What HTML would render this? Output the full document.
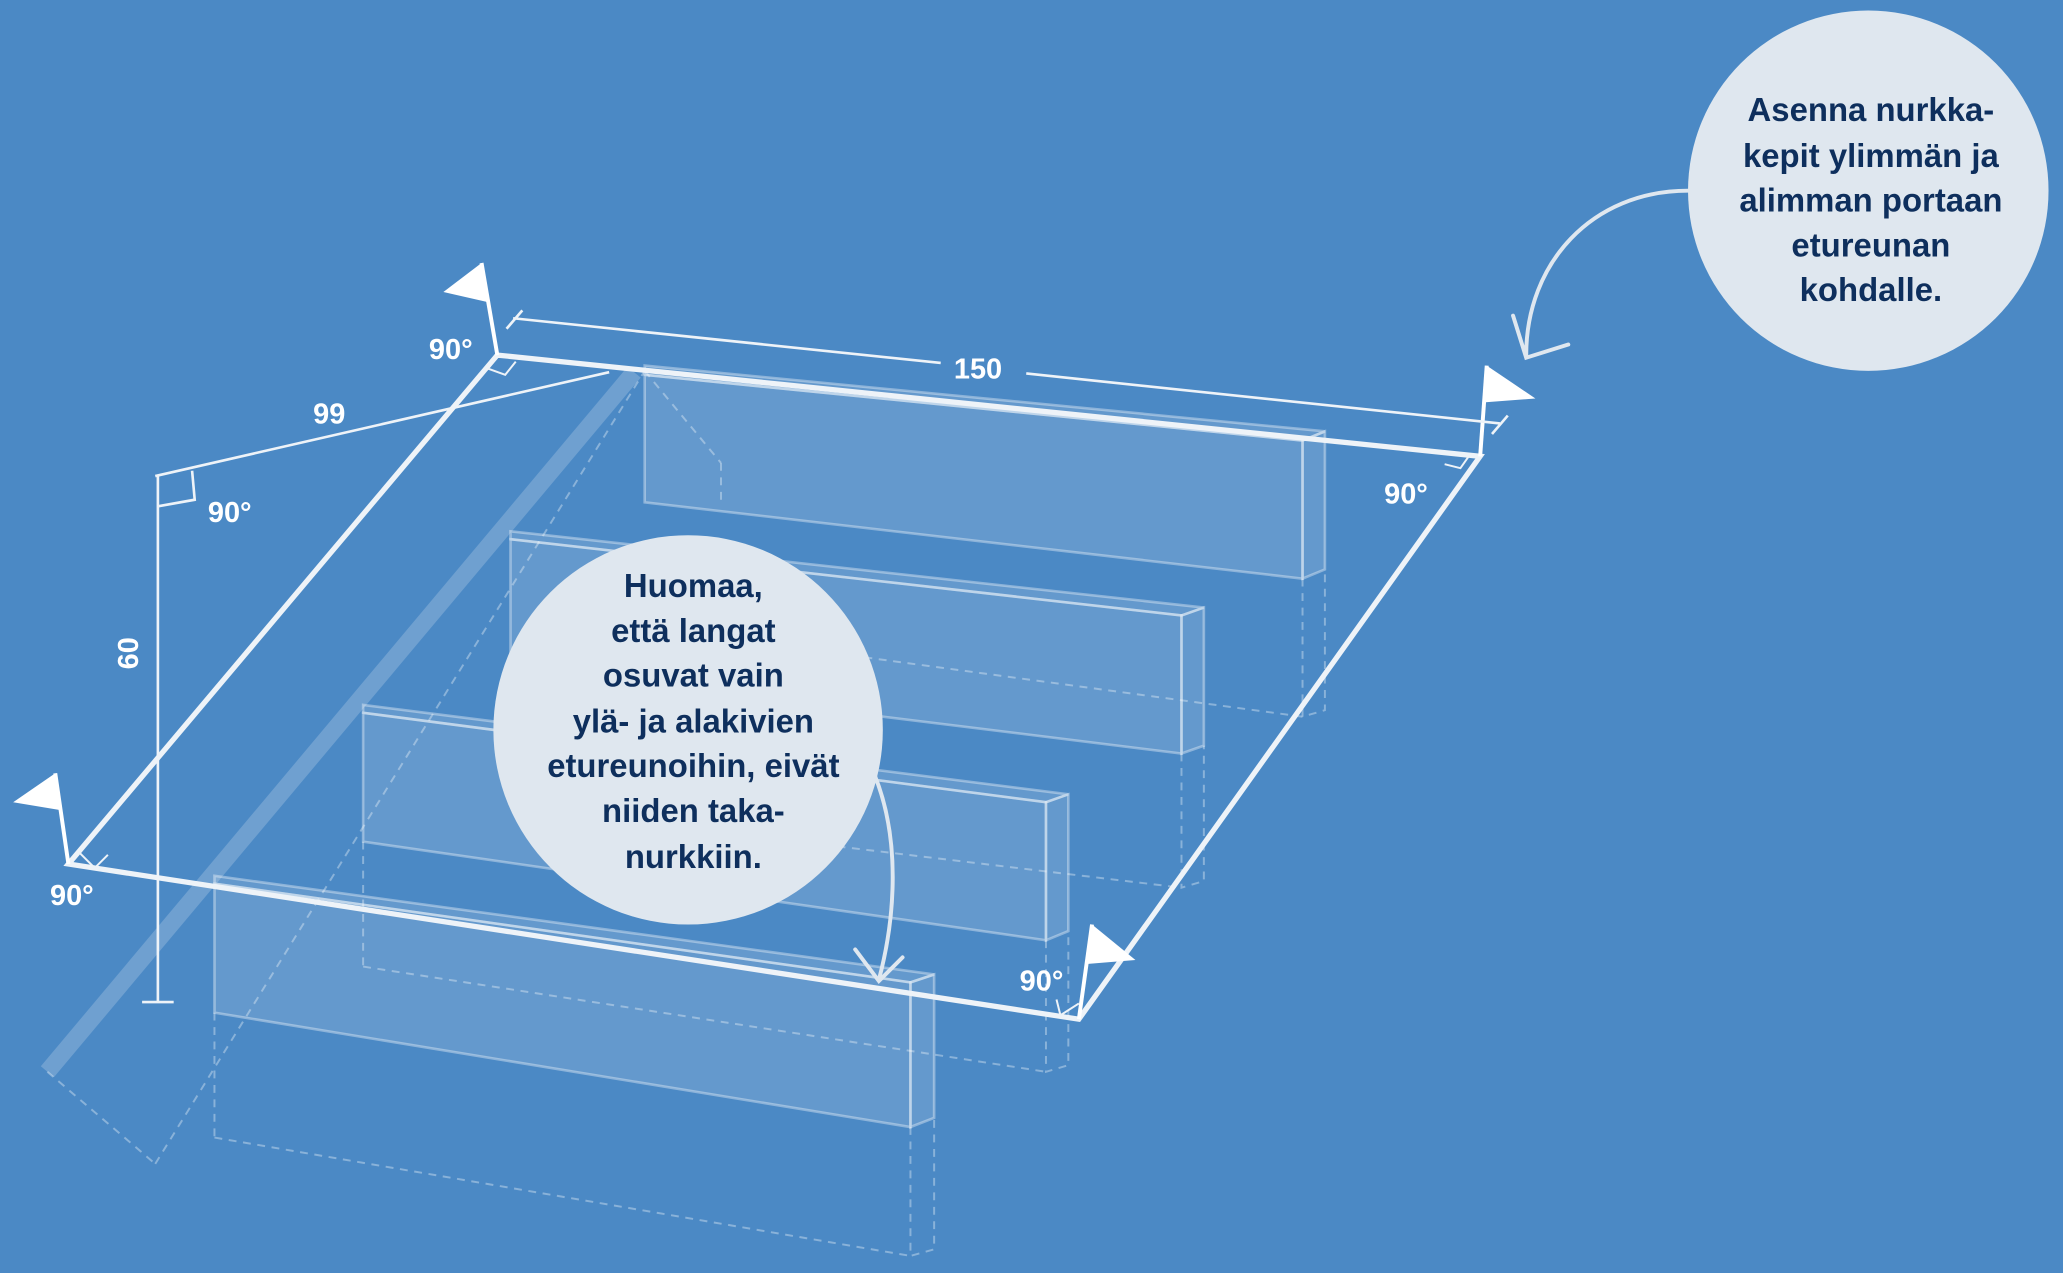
<!DOCTYPE html>
<html><head><meta charset="utf-8"><style>
html,body{margin:0;padding:0;background:#4a88c4;}
svg{display:block}
text{font-family:"Liberation Sans",sans-serif;font-weight:bold;}
</style></head><body>
<svg width="2063" height="1273" viewBox="0 0 1568 968" preserveAspectRatio="none" xmlns="http://www.w3.org/2000/svg">
<rect width="1568" height="968" fill="#4b89c5"/>
<!-- diagonal rail -->
<line x1="482" y1="283" x2="36" y2="815" stroke="rgba(255,255,255,0.2)" stroke-width="13"/>
<g stroke="rgba(255,255,255,0.35)" stroke-width="1.5" stroke-dasharray="6,5" fill="none">
<line x1="36" y1="815" x2="118" y2="885"/><line x1="118" y1="885" x2="490" y2="282"/>
<line x1="490" y1="282" x2="548" y2="352"/>
<line x1="548" y1="352" x2="548" y2="380"/>
<polyline points="990,440 990,545 1007,540 1007,433"/><line x1="548" y1="485" x2="990" y2="545"/>
<polyline points="898,573 898,675 915,670 915,567"/><line x1="440" y1="620" x2="898" y2="675"/>
<polyline points="795,715 795,815 812,810 812,708"/><line x1="276" y1="640" x2="276" y2="735"/><line x1="276" y1="735" x2="795" y2="815"/>
<polyline points="692,857 692,955 710,950 710,850"/><line x1="163" y1="770" x2="163" y2="865"/><line x1="163" y1="865" x2="692" y2="955"/>
</g>
<g fill="rgba(255,255,255,0.14)" stroke="rgba(255,255,255,0.36)" stroke-width="2">
<polygon points="490,278 1007,328 990,335 490,285"/><polygon points="490,285 990,335 990,440 490,382"/><polygon points="990,335 1007,328 1007,433 990,440"/>
<polygon points="388,404 915,462 898,468 388,410"/><polygon points="388,410 898,468 898,573 388,510"/><polygon points="898,468 915,462 915,567 898,573"/>
<polygon points="276,536 812,604 795,610 276,542"/><polygon points="276,542 795,610 795,715 276,640"/><polygon points="795,610 812,604 812,708 795,715"/>
<polygon points="163,666 710,741 692,747 163,672"/><polygon points="163,672 692,747 692,857 163,770"/><polygon points="692,747 710,741 710,850 692,857"/>
</g>
<polygon points="378,270 1125,347 820,775 52,657" fill="none" stroke="#eef3f8" stroke-width="4"/>
<g stroke="#eef3f8" stroke-width="1.5" fill="none">
<polyline points="370,280 384,285 392,275"/><polyline points="1098,353 1110,356 1117,346"/>
<polyline points="60,648 72,660 82,650"/><polyline points="803,760 806,772 820,763"/>
</g>
<g stroke="#fff" stroke-width="3" fill="#fff">
<line x1="378" y1="270" x2="366" y2="200"/><polygon points="366,200 337,222 372,230" stroke="none"/>
<line x1="52" y1="657" x2="42" y2="588"/><polygon points="42,588 10,610 46,616" stroke="none"/>
<line x1="1125" y1="347" x2="1130" y2="278"/><polygon points="1130,278 1167,303 1128,306" stroke="none"/>
<line x1="820" y1="775" x2="830" y2="703"/><polygon points="830,703 863,730 826,733" stroke="none"/>
</g>
<g stroke="#eef3f8" stroke-width="2" fill="none">
<line x1="390" y1="242" x2="715" y2="276"/><line x1="780" y1="284" x2="1140" y2="322"/>
<line x1="385" y1="250" x2="397" y2="236"/><line x1="1134" y1="330" x2="1146" y2="316"/>
<line x1="118" y1="362" x2="463" y2="283"/>
<line x1="120" y1="362" x2="120" y2="762"/><line x1="108" y1="762" x2="132" y2="762"/>
<polyline points="120,385 148,380 146,358"/>
</g>
<g fill="#fff" font-size="22">
<text x="725" y="288">150</text>
<text x="238" y="322">99</text>
<text x="90" y="510" transform="rotate(-90 97 502)">60</text>
<text x="326" y="273">90°</text><text x="158" y="397">90°</text>
<text x="1052" y="383">90°</text><text x="38" y="688">90°</text><text x="775" y="753">90°</text>
</g>
<circle cx="1420" cy="145" r="137" fill="#dfe7ef"/>
<circle cx="523" cy="555" r="148" fill="#dfe7ef"/>
<g fill="#0e2f5d" font-size="25" text-anchor="middle">
<text x="1422" y="92">Asenna nurkka-</text><text x="1422" y="127">kepit ylimmän ja</text>
<text x="1422" y="161">alimman portaan</text><text x="1422" y="195">etureunan</text><text x="1422" y="229">kohdalle.</text>
<text x="527" y="454">Huomaa,</text><text x="527" y="488">että langat</text><text x="527" y="522">osuvat vain</text>
<text x="527" y="557">ylä- ja alakivien</text><text x="527" y="591">etureunoihin, eivät</text>
<text x="527" y="625">niiden taka-</text><text x="527" y="660">nurkkiin.</text>
</g>
<g stroke="#dfe7ef" stroke-width="3" fill="none" stroke-linecap="round">
<path d="M1283,145 C1210,145 1160,200 1160,270"/><polyline points="1150,240 1160,272 1192,262"/>
<path d="M665,590 C685,640 680,700 668,745"/><polyline points="650,722 668,746 686,728"/>
</g>
</svg>
</body></html>
